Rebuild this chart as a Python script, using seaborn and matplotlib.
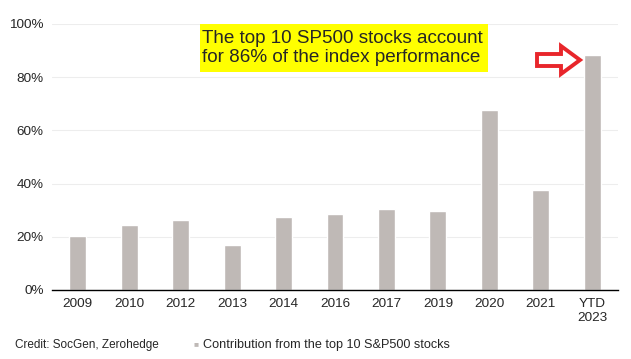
import numpy as np
import matplotlib.pyplot as plt
import seaborn as sns
from matplotlib.patches import Polygon, Rectangle
from matplotlib.ticker import FixedLocator, PercentFormatter

years = ["2009", "2010", "2012", "2013", "2014", "2016", "2017", "2019", "2020", "2021", "YTD\n2023"]
contribution = [20.3, 24.4, 26.3, 16.9, 27.4, 28.6, 30.5, 29.7, 67.7, 37.6, 88.3]
bar_color = "#bfb9b6"

sns.set_style("white")
plt.rcParams["font.family"] = ["Liberation Sans", "DejaVu Sans"]

fig = plt.figure(figsize=(6.31, 3.59), dpi=100)
ax = fig.add_axes([52 / 631, 1 - 290 / 359, 566 / 631, 266 / 359])

sns.barplot(x=years, y=contribution, color=bar_color, width=0.33, saturation=1, ax=ax)

ax.set_ylim(0, 100)
ax.set_xlim(-0.5, len(years) - 0.5)
ax.set_yticks(np.arange(0, 101, 20))
ax.yaxis.set_major_formatter(PercentFormatter(decimals=0))
ax.yaxis.grid(True, color="#ededed", linewidth=0.8)
ax.set_axisbelow(True)
for side in ["top", "right", "left"]:
    ax.spines[side].set_visible(False)
ax.spines["bottom"].set_color("black")
ax.spines["bottom"].set_linewidth(1)
ax.tick_params(axis="y", length=0, labelsize=9.7, pad=6)
ax.tick_params(axis="x", which="major", length=0, labelsize=9.7, pad=6)
ax.xaxis.set_minor_locator(FixedLocator(np.arange(-0.5, len(years), 1)))
ax.tick_params(axis="x", which="minor", length=5, width=1, color="black", direction="out")
ax.set_xlabel("")
ax.set_ylabel("")

# yellow callout
fig.patches.append(Rectangle((200 / 631, 1 - 72 / 359), 288 / 631, 48 / 359,
                             transform=fig.transFigure, facecolor="#ffff00", edgecolor="none"))
fig.text(202 / 631, 1 - 48 / 359, "The top 10 SP500 stocks account\nfor 86% of the index performance",
         fontsize=13.6, va="center", ha="left", linespacing=1.12)

# red outlined arrow (figure pixel space)
pts = np.array([[537, 54], [561, 54], [561, 46], [580, 60], [561, 74], [561, 66], [537, 66]], dtype=float)
pts[:, 1] = 359 - pts[:, 1]
fig.patches.append(Polygon(pts / [631, 359], closed=True, transform=fig.transFigure,
                           facecolor="white", edgecolor="#e8262b", linewidth=2.8, joinstyle="miter"))

fig.text(15 / 631, 1 - 345 / 359, "Credit: SocGen, Zerohedge", fontsize=8.5, va="center")
fig.text(194 / 631, 1 - 345 / 359, "\u25a0", fontsize=6, color=bar_color, va="center")
fig.text(203 / 631, 1 - 345 / 359, "Contribution from the top 10 S&P500 stocks", fontsize=9.1, va="center")

fig.savefig("out.png", dpi=100)
